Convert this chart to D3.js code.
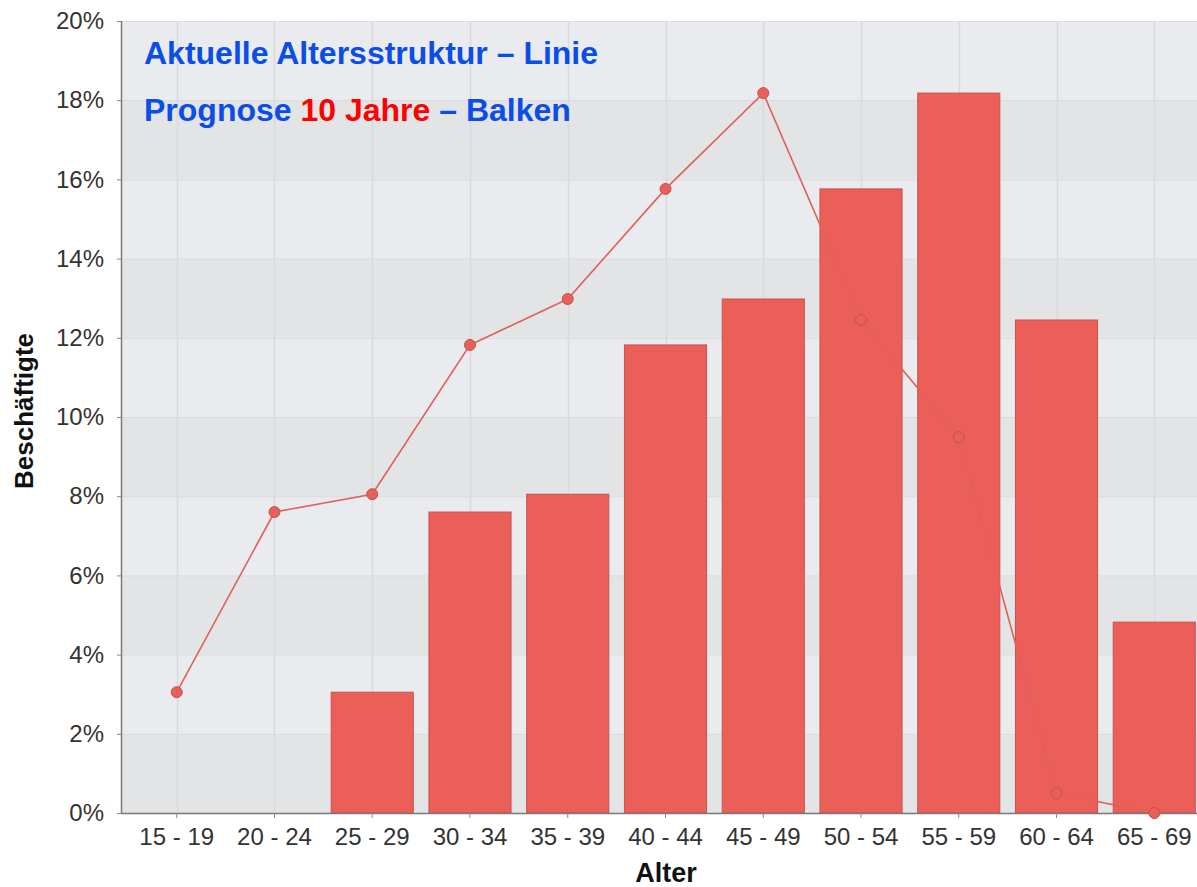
<!DOCTYPE html>
<html>
<head>
<meta charset="utf-8">
<script src="https://cdn.jsdelivr.net/npm/d3@7"></script>
<style>
  html, body { margin: 0; padding: 0; background: #ffffff; }
  svg { display: block; }
</style>
</head>
<body>
<svg id="chart" width="1197" height="887"></svg>
<script>
const categories = ["15 - 19", "20 - 24", "25 - 29", "30 - 34", "35 - 39", "40 - 44", "45 - 49", "50 - 54", "55 - 59", "60 - 64", "65 - 69"];
const currentValues = [3.05, 7.6, 8.05, 11.82, 12.98, 15.76, 18.18, 12.45, 9.49, 0.5, 0.0];
const forecastValues = [0, 0, 3.05, 7.6, 8.05, 11.82, 12.98, 15.76, 18.18, 12.45, 4.82];
const yTicks = [0, 2, 4, 6, 8, 10, 12, 14, 16, 18, 20];

const svg = d3.select("#chart");
const pLeft = 121, pTop = 21, pBottom = 813, pRight = 1210;
const FONT = "Liberation Sans, Arial, sans-serif";

const x = d3.scaleBand().domain(categories).range([pLeft, pRight]).paddingInner(0.16).paddingOuter(0.15);
const y = d3.scaleLinear().domain([0, 20]).range([pBottom, pTop]);

// background bands
const bands = d3.range(0, 20, 2);
svg.append("g").selectAll("rect").data(bands).join("rect")
  .attr("x", pLeft).attr("width", 1197 - pLeft)
  .attr("y", d => y(d + 2)).attr("height", d => y(d) - y(d + 2))
  .attr("fill", d => ((d / 2) % 2 === 1) ? "#e9ebee" : "#e3e4e6");

// horizontal grid
svg.append("g").selectAll("line").data(yTicks.slice(1)).join("line")
  .attr("x1", pLeft).attr("x2", 1197)
  .attr("y1", d => y(d) + 0.5).attr("y2", d => y(d) + 0.5)
  .attr("stroke", "#d9dadd").attr("stroke-width", 1);

// vertical grid
svg.append("g").selectAll("line").data(categories).join("line")
  .attr("x1", d => Math.round(x(d) + x.bandwidth() / 2) + 0.5)
  .attr("x2", d => Math.round(x(d) + x.bandwidth() / 2) + 0.5)
  .attr("y1", pTop).attr("y2", pBottom)
  .attr("stroke", "#d8dadd").attr("stroke-width", 1.5);

// bars
svg.append("g").selectAll("rect").data(categories.map((c, i) => ({c, v: forecastValues[i]})).filter(d => d.v > 0)).join("rect")
  .attr("x", d => x(d.c)).attr("width", x.bandwidth())
  .attr("y", d => y(d.v)).attr("height", d => y(0) - y(d.v))
  .attr("fill", "#ec5f59").attr("stroke", "#c9524d").attr("stroke-width", 1);

// axes lines
svg.append("line").attr("x1", pLeft + 0.5).attr("x2", pLeft + 0.5).attr("y1", pTop).attr("y2", pBottom)
  .attr("stroke", "#7a7a7a").attr("stroke-width", 1.5);
svg.append("line").attr("x1", pLeft).attr("x2", 1197).attr("y1", pBottom + 0.5).attr("y2", pBottom + 0.5)
  .attr("stroke", "#7a7a7a").attr("stroke-width", 1.5);

// y axis
const yAxis = svg.append("g").attr("transform", `translate(${pLeft},0)`)
  .call(d3.axisLeft(y).tickValues(yTicks).tickFormat(d => d + "%").tickSize(4).tickPadding(13));
yAxis.select(".domain").remove();
yAxis.selectAll("line").attr("stroke", "#888");
yAxis.selectAll("text").attr("font-family", FONT).attr("font-size", 24).attr("fill", "#333");

// x axis
const xAxis = svg.append("g").attr("transform", `translate(0,${pBottom})`)
  .call(d3.axisBottom(x).tickSize(5).tickPadding(10));
xAxis.select(".domain").remove();
xAxis.selectAll("line").attr("stroke", "#888");
xAxis.selectAll("text").attr("font-family", FONT).attr("font-size", 24).attr("fill", "#333");

// line
const pts = categories.map((c, i) => ({c, v: currentValues[i]}));
const line = d3.line().x(d => x(d.c) + x.bandwidth() / 2).y(d => y(d.v));
svg.append("path").datum(pts).attr("d", line)
  .attr("fill", "none").attr("stroke", "#e0605a").attr("stroke-width", 1.6);
svg.append("g").selectAll("circle").data(pts).join("circle")
  .attr("cx", d => x(d.c) + x.bandwidth() / 2).attr("cy", d => y(d.v)).attr("r", 5.5)
  .attr("fill", "#e8605a").attr("stroke", "#c4504b").attr("stroke-width", 1);

// axis titles
svg.append("text").attr("x", 666).attr("y", 882).attr("text-anchor", "middle")
  .attr("font-family", FONT).attr("font-weight", "bold").attr("font-size", 27).attr("fill", "#111")
  .text("Alter");
svg.append("text").attr("transform", "translate(33,411) rotate(-90)").attr("text-anchor", "middle")
  .attr("font-family", FONT).attr("font-weight", "bold").attr("font-size", 26).attr("fill", "#111")
  .text("Beschäftigte");

// annotations
svg.append("text").attr("x", 144).attr("y", 64)
  .attr("font-family", FONT).attr("font-weight", "bold").attr("font-size", 32).attr("fill", "#0b4de8")
  .text("Aktuelle Altersstruktur – Linie");
const t2 = svg.append("text").attr("x", 144).attr("y", 121)
  .attr("font-family", FONT).attr("font-weight", "bold").attr("font-size", 32).attr("fill", "#0b4de8");
t2.append("tspan").text("Prognose ");
t2.append("tspan").attr("fill", "#ff0000").text("10 Jahre");
t2.append("tspan").text(" – Balken");
</script>
</body>
</html>
